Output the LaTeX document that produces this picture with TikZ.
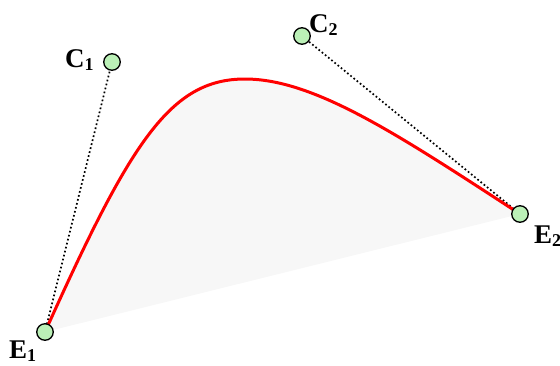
\documentclass[tikz,border=0pt]{standalone}
\usepackage{fontspec}
\setmainfont{Liberation Serif}
\usetikzlibrary{backgrounds}
\definecolor{ptgreen}{RGB}{187,240,183}
\definecolor{hullgray}{RGB}{247,247,247}
\tikzset{
  pt/.style={circle, draw=black, line width=1.3pt, fill=ptgreen, minimum size=16.5pt, inner sep=0pt},
  lbl/.style={anchor=base west, inner sep=0pt, font=\fontsize{27}{27}\selectfont\bfseries},
  ctrlline/.style={draw=black, line width=1.7pt, dash pattern=on 1.7pt off 2.4pt},
  curveline/.style={draw=red, line width=3pt},
}
\newcommand{\subx}[1]{\raisebox{-3pt}{\fontsize{18}{18}\selectfont #1}}
\begin{document}
\begin{tikzpicture}[x=1pt,y=-1pt]
\useasboundingbox (0,0) rectangle (560,365);
\node[pt] (E1) at (45,332) {};
\node[pt] (C1) at (112,62) {};
\node[pt] (C2) at (302,36) {};
\node[pt] (E2) at (520,214) {};
\coordinate (top) at (245,79);
\begin{scope}[on background layer]
  \fill[hullgray] (E1.center) .. controls (130.5,142) and (170,79) .. (top)
      .. controls (315,79) and (400,136) .. (E2.center) -- cycle;
  \draw[ctrlline] (E1.center) -- (C1.center);
  \draw[ctrlline] (E2.center) -- (C2.center);
  \draw[curveline] (E1.center) .. controls (130.5,142) and (170,79) .. (top)
      .. controls (315,79) and (400,136) .. (E2.center);
\end{scope}
\node[lbl] (LC1) at (65,67) {C\subx{1}};
\node[lbl] (LC2) at (309,32.5) {C\subx{2}};
\node[lbl] (LE1) at (9,358.5) {E\subx{1}};
\node[lbl] (LE2) at (534,243) {E\subx{2}};
\end{tikzpicture}
\end{document}
